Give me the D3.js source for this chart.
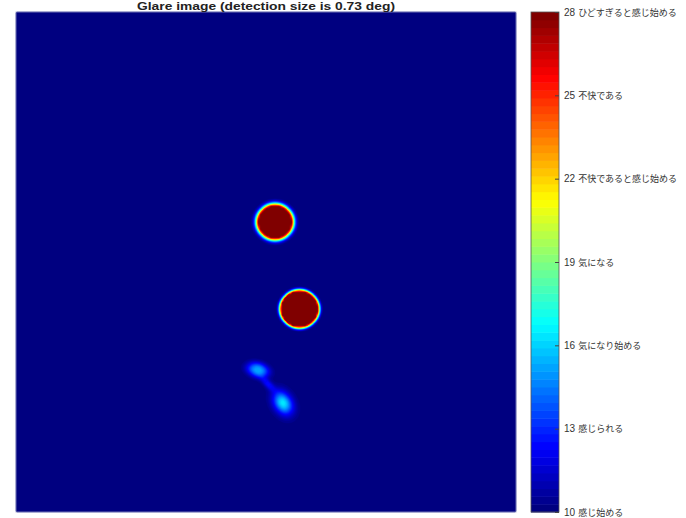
<!DOCTYPE html>
<html>
<head>
<meta charset="utf-8">
<script src="https://cdn.jsdelivr.net/npm/d3@7"></script>
<style>
  body { margin: 0; background: #fff; }
  svg { display: block; }
</style>
</head>
<body>
<div id="chart"></div>
<script>
// glare spots, in image units (0..500, origin top-left)
const spotX     = [259,  283.5, 242, 252, 267];
const spotY     = [210,  297,   358, 372, 391];
const spotRX    = [16.8, 18.3,  11,  3.5, 8.5];
const spotRY    = [16.3, 17.7,  7,   9,   12];
const spotAngle = [0,    0,     15, -45, -30];
const spotAmp   = [40,   40,    5.3, 2.5, 6.5];
const spotSharp = [4.6,  7,     2.5, 2,   2];

const baseValue = 10;
const tickValues = [10, 13, 16, 19, 22, 25, 28];
const tickLabels = ['感じ始める', '感じられる', '気になり始める', '気になる', '不快であると感じ始める', '不快である', 'ひどすぎると感じ始める'];
const title = 'Glare image (detection size is 0.73 deg)';

const width = 686, height = 518;
const imgSize = 500, cell = 2, n = imgSize / cell;
const nLevels = 64;

const svg = d3.select('#chart').append('svg').attr('width', width).attr('height', height);

const x = d3.scaleLinear().domain([0, imgSize]).range([16, 516]);
const y = d3.scaleLinear().domain([0, imgSize]).range([12, 512]);
const cScale = d3.scaleLinear().domain([10, 28]).range([512, 12]);

// MATLAB-style jet
function jet(t) {
  const c = (v) => Math.round(255 * Math.max(0, Math.min(1, v)));
  return `rgb(${c(1.5 - Math.abs(4 * t - 3))},${c(1.5 - Math.abs(4 * t - 2))},${c(1.5 - Math.abs(4 * t - 1))})`;
}
const levelStep = (28 - 10) / nLevels;
const levels = d3.range(nLevels).map((i) => 10 + i * levelStep);
const color = (i) => jet(i / (nLevels - 1));

// field on the grid
const values = new Float64Array(n * n);
for (let j = 0; j < n; j++) {
  for (let i = 0; i < n; i++) {
    const px = (i + 0.5) * cell, py = (j + 0.5) * cell;
    let v = baseValue;
    spotX.forEach((sx, k) => {
      const a = spotAngle[k] * Math.PI / 180;
      const dx = px - sx, dy = py - spotY[k];
      const u = (dx * Math.cos(a) + dy * Math.sin(a)) / spotRX[k];
      const w = (-dx * Math.sin(a) + dy * Math.cos(a)) / spotRY[k];
      const d = Math.sqrt(u * u + w * w);
      v += spotAmp[k] * Math.exp(-Math.pow(d, spotSharp[k]));
    });
    values[j * n + i] = Math.min(28, v);
  }
}

const proj = d3.geoTransform({
  point: function (gx, gy) { this.stream.point(x(gx * cell), y(gy * cell)); }
});
const path = d3.geoPath(proj);

svg.append('rect').attr('x', x(0)).attr('y', y(0))
  .attr('width', x(imgSize) - x(0)).attr('height', y(imgSize) - y(0))
  .attr('fill', color(0));

const contours = d3.contours().size([n, n]).thresholds(levels)(values);
svg.append('g').selectAll('path').data(contours).join('path')
  .attr('d', path)
  .attr('fill', (d, i) => color(i))
  .attr('stroke', (d, i) => color(i))
  .attr('stroke-width', 0.5);

svg.append('rect').attr('x', x(0)).attr('y', y(0))
  .attr('width', x(imgSize) - x(0)).attr('height', y(imgSize) - y(0))
  .attr('fill', 'none').attr('stroke', '#8a8fc0').attr('stroke-width', 0.8);

svg.append('text').attr('x', (x(0) + x(imgSize)) / 2).attr('y', 9.5)
  .attr('text-anchor', 'middle')
  .attr('font-family', 'Liberation Sans, Arial, sans-serif')
  .attr('font-weight', 'bold').attr('font-size', 11).attr('fill', '#222')
  .attr('textLength', 258).attr('lengthAdjust', 'spacingAndGlyphs')
  .text(title);

// colorbar
const barX = 531, barW = 28;
const bar = svg.append('g');
bar.selectAll('rect').data(levels).join('rect')
  .attr('x', barX).attr('width', barW)
  .attr('y', (d) => cScale(d + levelStep))
  .attr('height', (d) => cScale(d) - cScale(d + levelStep) + 0.5)
  .attr('fill', (d, i) => color(i));
bar.append('rect').attr('x', barX).attr('y', cScale(28)).attr('width', barW)
  .attr('height', cScale(10) - cScale(28))
  .attr('fill', 'none').attr('stroke', '#555').attr('stroke-width', 0.8);

const axis = d3.axisRight(cScale).tickValues(tickValues).tickSize(-4).tickPadding(5)
  .tickFormat((d) => d);
const ax = svg.append('g').attr('transform', `translate(${barX + barW},0)`).call(axis);
ax.select('.domain').remove();
ax.selectAll('line').attr('stroke', '#444');
ax.selectAll('text')
  .attr('font-family', 'Liberation Sans, Noto Sans CJK JP, sans-serif')
  .attr('font-size', 10).attr('fill', '#333')
  .append('tspan').attr('dx', 3).attr('font-size', 9).attr('font-family', 'Noto Sans CJK JP, sans-serif')
  .text((d) => tickLabels[tickValues.indexOf(d)]);
</script>
</body>
</html>
